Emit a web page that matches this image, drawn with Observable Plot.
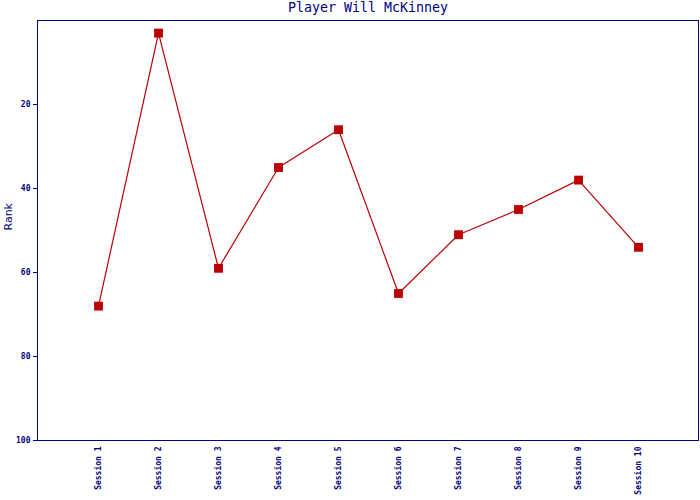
<!DOCTYPE html>
<html>
<head>
<meta charset="utf-8">
<script src="https://cdn.jsdelivr.net/npm/d3@7"></script>
<script src="https://cdn.jsdelivr.net/npm/@observablehq/plot@0.6"></script>
<style>
  html, body { margin: 0; padding: 0; background: #fff; }
</style>
</head>
<body>
<div id="chart"></div>
<script>
const sessions = ["Session 1","Session 2","Session 3","Session 4","Session 5","Session 6","Session 7","Session 8","Session 9","Session 10"];
const ranks = [68, 3, 59, 35, 26, 65, 51, 45, 38, 54];
const yTicks = [20, 40, 60, 80, 100];
const title = "Player Will McKinney";

const data = sessions.map((s, i) => ({session: s, rank: ranks[i]}));
const navy = "#000080";
const red = "#bb0000";

const chart = Plot.plot({
  width: 700,
  height: 500,
  marginTop: 20,
  marginLeft: 37,
  marginRight: 2,
  marginBottom: 60,
  style: {fontFamily: "DejaVu Sans Mono", color: navy, background: "#fff"},
  x: {type: "point", domain: sessions, padding: 0.98, label: null},
  y: {domain: [0, 100], reverse: true, label: null},
  marks: [
    Plot.frame({stroke: navy, strokeWidth: 1}),
    Plot.axisY({ticks: yTicks, tickSize: 4, tickPadding: 3, stroke: navy, fill: navy, fontSize: 8, fontWeight: "bold", label: null}),
    Plot.axisX({tickSize: 0, tickRotate: -90, tickPadding: 6, fill: navy, fontSize: 8, fontWeight: "bold", label: null}),
    Plot.text([title], {frameAnchor: "top", dy: -18, text: d => d, fill: navy, fontSize: 13.3, fontFamily: "DejaVu Sans Mono"}),
    Plot.text(["Rank"], {frameAnchor: "left", dx: -29, rotate: -90, text: d => d, fill: navy, fontSize: 11, fontFamily: "DejaVu Sans"}),
    Plot.line(data, {x: "session", y: "rank", stroke: red, strokeWidth: 1.2}),
    Plot.dot(data, {x: "session", y: "rank", symbol: "square", r: 5, fill: red, stroke: "none"})
  ]
});
document.getElementById("chart").appendChild(chart);
</script>
</body>
</html>
